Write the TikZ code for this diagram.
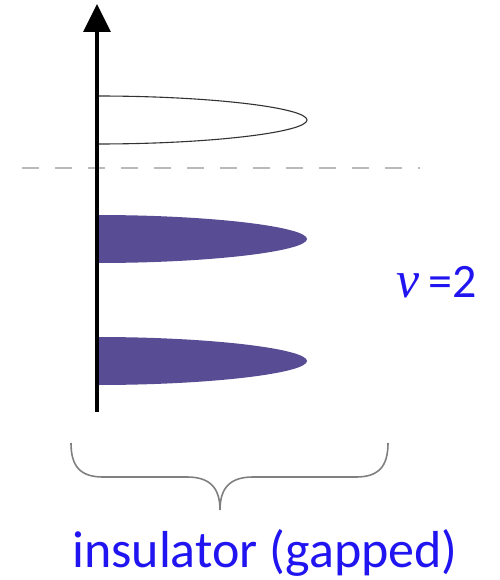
\documentclass[tikz,border=0pt]{standalone}
\usepackage{fontspec}
\setmainfont{Carlito}
\newfontfamily\nufont{Liberation Serif}
\usetikzlibrary{arrows.meta}
\definecolor{bandfill}{RGB}{88,76,148}
\definecolor{labelblue}{RGB}{32,20,240}
\definecolor{bracegray}{RGB}{128,128,128}
\definecolor{dashgray}{RGB}{185,185,185}
\tikzset{
  axisline/.style={line width=3.5pt, -{Triangle[length=28pt,width=27pt]}},
  openband/.style={draw=black!80, line width=1.1pt, fill=white},
  filledband/.style={fill=bandfill, draw=none},
  fermiline/.style={draw=dashgray, line width=1.2pt, dash pattern=on 17pt off 16pt},
  bracestyle/.style={draw=bracegray, line width=1.6pt},
  bluelabel/.style={text=labelblue, inner sep=0pt}
}
\begin{document}
\begin{tikzpicture}[x=1pt,y=-1pt]
\useasboundingbox (0,0) rectangle (499,580);
% Fermi level
\draw[fermiline] (22,168) -- (420,168);
% bands
\path[openband] (97,96) .. controls (213,96) and (307,108) .. (307,120)
  .. controls (307,132) and (213,144) .. (97,144);
\path[filledband] (97,215) .. controls (213,215) and (307,227) .. (307,239)
  .. controls (307,251) and (213,263) .. (97,263) -- cycle;
\path[filledband] (97,337) .. controls (213,337) and (307,349) .. (307,361)
  .. controls (307,373) and (213,385) .. (97,385) -- cycle;
% energy axis
\coordinate (axbot) at (97,412);
\coordinate (axtop) at (97,4);
\draw[axisline] (axbot) -- (axtop);
% brace
\draw[bracestyle] (71,443) .. controls (71,466) and (80,477) .. (103,477)
  -- (187,477) .. controls (208,477) and (220,486) .. (220,510)
  .. controls (220,486) and (232,477) .. (253,477)
  -- (356,477) .. controls (379,477) and (388,466) .. (388,443);
% labels
\node[bluelabel, anchor=base west, font=\fontsize{48}{50}\selectfont] (nu) at (396,297) {{\nufont\itshape\fontsize{52}{54}\selectfont ν}\hspace{9pt}=2};
\node[bluelabel, anchor=base, font=\fontsize{52}{56}\selectfont] (ins) at (265,567) {insulator (gapped)};
\end{tikzpicture}
\end{document}
